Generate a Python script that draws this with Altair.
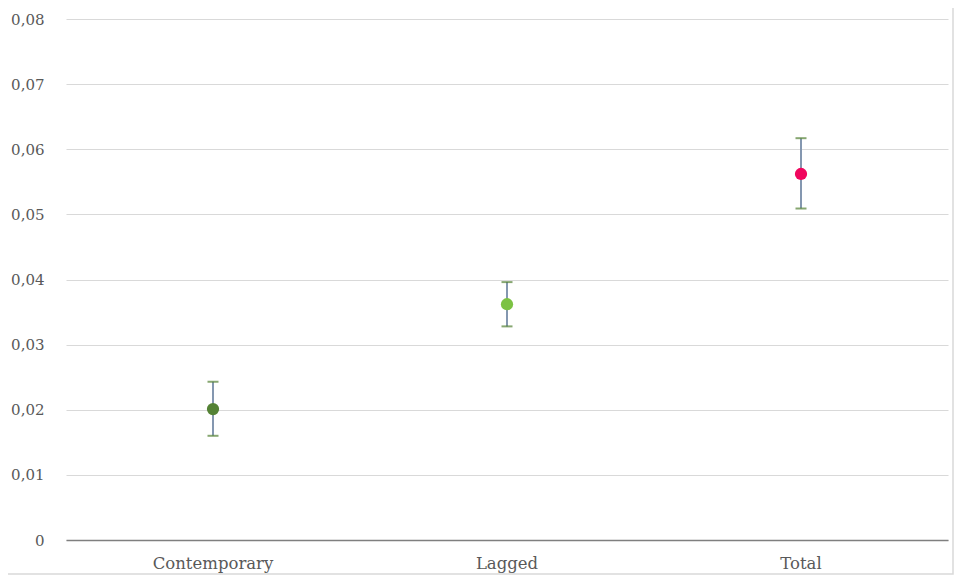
import altair as alt
import pandas as pd

categories = ["Contemporary", "Lagged", "Total"]
estimates = [0.0201, 0.0362, 0.0562]
upper = [0.0243, 0.0396, 0.0617]
lower = [0.0160, 0.0328, 0.0509]
colors = ["#548235", "#7cc243", "#f0065d"]

df = pd.DataFrame({"cat": categories, "est": estimates, "hi": upper, "lo": lower, "col": colors})

FONT = "DejaVu Serif"

x = alt.X("cat:N", sort=categories, title=None,
          scale=alt.Scale(paddingInner=0, paddingOuter=0),
          axis=alt.Axis(labelAngle=0, labelFont=FONT, labelFontSize=16.5, labelColor="#595959",
                        domainColor="#7f7f7f", domainWidth=1.5, ticks=False, labelPadding=15,
                        grid=False))
y = alt.Y("est:Q", title=None,
          scale=alt.Scale(domain=[0, 0.08], nice=False),
          axis=alt.Axis(values=[0, 0.01, 0.02, 0.03, 0.04, 0.05, 0.06, 0.07, 0.08],
                        labelExpr="datum.value == 0 ? '0' : replace(format(datum.value, '.2f'), '.', ',')",
                        labelFont=FONT, labelFontSize=15, labelColor="#595959",
                        domain=False, ticks=False, labelPadding=22,
                        gridColor="#d9d9d9", gridWidth=1))

base = alt.Chart(df)

frame = base.mark_rect(fill=None, stroke="#d9d9d9", strokeWidth=1.5).encode(
    x=alt.value(-62), x2=alt.value(887), y=alt.value(-16), y2=alt.value(555)
).transform_filter("datum.cat == 'Total'")

rules = base.mark_rule(color="#8497b0", strokeWidth=2).encode(
    x=x, y=alt.Y("lo:Q"), y2="hi:Q")
cap_hi = base.mark_tick(color="#548235", thickness=2, size=11, orient="horizontal").encode(
    x=x, y=alt.Y("hi:Q"))
cap_lo = base.mark_tick(color="#548235", thickness=2, size=11, orient="horizontal").encode(
    x=x, y=alt.Y("lo:Q"))
pts = base.mark_circle(size=150, opacity=1).encode(
    x=x, y=y, color=alt.Color("col:N", scale=None))

chart = alt.layer(frame, rules, cap_hi, cap_lo, pts).properties(
    width=882, height=521,
    padding={"left": 58, "top": 11, "right": 6, "bottom": 36},
    autosize=alt.AutoSizeParams(type="none"),
).configure_view(stroke=None)

chart.save("out.html", embed_options={"renderer": "svg", "actions": False})
